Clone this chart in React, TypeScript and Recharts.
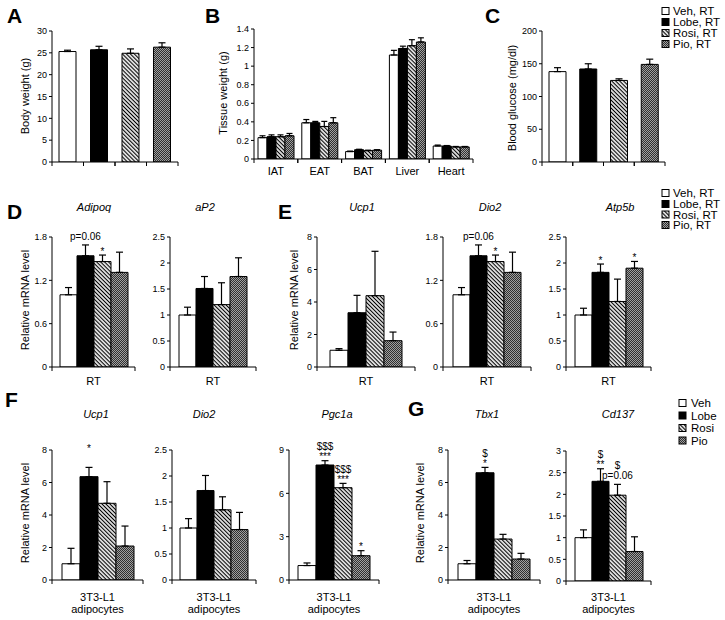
import React from 'react';
import { BarChart, Bar, XAxis, YAxis, ErrorBar, Cell, LabelList } from 'recharts';

// --- Data ---
const GROUPS = ['Veh', 'Lobe', 'Rosi', 'Pio'];
const LEGEND_RT = ['Veh, RT', 'Lobe, RT', 'Rosi, RT', 'Pio, RT'];
const LEGEND_CELLS = ['Veh', 'Lobe', 'Rosi', 'Pio'];

const bodyWeight = [25.3, 25.7, 24.9, 26.3];
const bodyWeightErr = [0.3, 0.8, 1.0, 1.0];

const tissues = ['IAT', 'EAT', 'BAT', 'Liver', 'Heart'];
const tissueVeh = [0.23, 0.39, 0.08, 1.12, 0.14];
const tissueLobe = [0.24, 0.39, 0.1, 1.19, 0.14];
const tissueRosi = [0.24, 0.35, 0.09, 1.22, 0.13];
const tissuePio = [0.25, 0.39, 0.095, 1.26, 0.13];
const tissueVehErr = [0.02, 0.035, 0.005, 0.05, 0.01];
const tissueLobeErr = [0.02, 0.015, 0.005, 0.025, 0.005];
const tissueRosiErr = [0.02, 0.055, 0.005, 0.065, 0.005];
const tissuePioErr = [0.025, 0.055, 0.005, 0.045, 0.005];

const glucose = [138, 142, 124.5, 149];
const glucoseErr = [6, 8, 2.5, 8];

// mRNA panels: mean per group, upper error, significance marks
const adipoq = [1.0, 1.54, 1.46, 1.31];
const adipoqErr = [0.1, 0.15, 0.09, 0.28];
const adipoqNotes = ['', 'p=0.06', '*', ''];

const ap2 = [1.0, 1.51, 1.2, 1.74];
const ap2Err = [0.15, 0.23, 0.42, 0.36];

const ucp1RT = [1.03, 3.34, 4.39, 1.62];
const ucp1RTErr = [0.1, 1.07, 2.73, 0.53];

const dio2RT = [1.0, 1.54, 1.46, 1.31];
const dio2RTErr = [0.1, 0.15, 0.09, 0.28];
const dio2RTNotes = ['', 'p=0.06', '*', ''];

const atp5b = [1.0, 1.82, 1.26, 1.9];
const atp5bErr = [0.13, 0.16, 0.43, 0.13];
const atp5bNotes = ['', '*', '', '*'];

const ucp1Cell = [1.0, 6.36, 4.72, 2.09];
const ucp1CellErr = [0.95, 0.57, 1.33, 1.23];
const ucp1CellNotes = ['', '*', '', ''];

const dio2Cell = [1.0, 1.72, 1.35, 0.97];
const dio2CellErr = [0.18, 0.29, 0.25, 0.33];

const pgc1a = [1.0, 7.96, 6.39, 1.68];
const pgc1aErr = [0.18, 0.3, 0.3, 0.35];
const pgc1aNotes = ['', '$$$\n***', '$$$\n***', '*'];

const tbx1 = [1.0, 6.6, 2.52, 1.29];
const tbx1Err = [0.2, 0.33, 0.29, 0.35];
const tbx1Notes = ['', '$\n*', '', ''];

const cd137 = [1.0, 2.3, 1.98, 0.68];
const cd137Err = [0.18, 0.29, 0.25, 0.34];
const cd137Notes = ['', '$\n**', '$\np=0.06', ''];

// --- Style ---
const FONT = '"Liberation Sans", Arial, Helvetica, sans-serif';
const FILLS = ['#ffffff', '#000000', 'url(#rosiHatch)', 'url(#pioDots)'];
const Y_W = 40;
const PAD_T = 34;
const PAD_B = 42;
const PAD_R = 6;

interface Geo {
  x0: number;
  x1: number;
  yTop: number;
  yBot: number;
}

function boxOf(g: Geo) {
  return {
    left: g.x0 - Y_W,
    top: g.yTop - PAD_T,
    width: g.x1 - g.x0 + Y_W + PAD_R,
    height: g.yBot - g.yTop + PAD_T + PAD_B,
  };
}

function PatternDefs() {
  return (
    <svg width={0} height={0} style={{ position: 'absolute' }}>
      <defs>
        <pattern id="rosiHatch" patternUnits="userSpaceOnUse" width={2.8} height={2.8} patternTransform="rotate(45)">
          <rect width={2.8} height={2.8} fill="#fff" />
          <line x1={0} y1={1.4} x2={2.8} y2={1.4} stroke="#000" strokeWidth={1.2} />
        </pattern>
        <pattern id="pioDots" patternUnits="userSpaceOnUse" width={2} height={2}>
          <rect width={2} height={2} fill="#a0a0a0" />
          <rect width={1} height={1} fill="#303030" />
          <rect x={1} y={1} width={1} height={1} fill="#303030" />
        </pattern>
      </defs>
    </svg>
  );
}

// category tick: boundary marks at band edges plus optional text
const xTick = (band: number, showText: boolean, dy: number) => (props: any) => {
  const { x, y, payload } = props;
  const lines = showText ? String(payload.value).split('\n') : [];
  return (
    <g>
      <line x1={x - band / 2} x2={x - band / 2} y1={y} y2={y + 4} stroke="#000" />
      <line x1={x + band / 2} x2={x + band / 2} y1={y} y2={y + 4} stroke="#000" />
      {lines.map((t, i) => (
        <text key={i} x={x} y={y + dy + i * 12} textAnchor="middle" fontSize={11} fill="#000">
          {t}
        </text>
      ))}
    </g>
  );
};

const noteContent = (vals: number[], errs: number[], notes: string[], k: number, lift: number) => (props: any) => {
  const vb = props.viewBox && props.viewBox.width != null ? props.viewBox : props;
  const { x, y, width, height } = vb;
  const text = notes[k];
  if (!text) return null;
  const errPx = (errs[k] * height) / vals[k];
  let cursor = y - errPx - lift;
  const lines = text.split('\n').reverse();
  return (
    <g>
      {lines.map((t, i) => {
        let base: number;
        if (t.startsWith('*')) {
          base = cursor - 0.5;
        } else {
          base = cursor - (i === 0 ? 5 : 2);
        }
        cursor = base - 8;
        return (
          <text key={i} x={x + width / 2} y={base} textAnchor="middle" fontSize={10} fill="#000">
            {t}
          </text>
        );
      })}
    </g>
  );
};

function yAxisProps(max: number, ticks: number[]) {
  return {
    type: 'number' as const,
    width: Y_W,
    domain: [0, max],
    ticks,
    interval: 0 as const,
    allowDataOverflow: true,
    tick: { fontSize: 9, fill: '#000' },
    tickSize: 3,
    tickMargin: 2,
    axisLine: { stroke: '#000' },
    tickLine: { stroke: '#000' },
  };
}

interface GeneProps extends Geo {
  max: number;
  ticks: number[];
  label: string;
  vals: number[];
  errs: number[];
  notes?: string[];
  barSize: number;
  labelDy?: number;
  lift?: number;
}

function GenePanel(p: GeneProps) {
  const row: any = { name: p.label };
  GROUPS.forEach((g, i) => {
    row[g] = p.vals[i];
    row[g + 'Err'] = [0, p.errs[i]];
  });
  const box = boxOf(p);
  return (
    <div style={{ position: 'absolute', left: box.left, top: box.top }}>
      <BarChart
        width={box.width}
        height={box.height}
        data={[row]}
        margin={{ top: PAD_T, right: PAD_R, bottom: 0, left: 0 }}
        barGap={0}
        barSize={p.barSize}
      >
        <XAxis
          dataKey="name"
          height={PAD_B}
          interval={0}
          tickLine={false}
          tickSize={0}
          tickMargin={0}
          axisLine={{ stroke: '#000' }}
          tick={xTick(p.x1 - p.x0, true, p.labelDy ?? 18)}
        />
        <YAxis {...yAxisProps(p.max, p.ticks)} />
        {GROUPS.map((g, i) => (
          <Bar key={g} dataKey={g} fill={FILLS[i]} stroke="#000" strokeWidth={1} isAnimationActive={false}>
            <ErrorBar dataKey={g + 'Err'} width={3.5} stroke="#000" strokeWidth={1.2} direction="y" />
            {p.notes && p.notes[i] ? (
              <LabelList dataKey={g} content={noteContent(p.vals, p.errs, p.notes, i, p.lift ?? 0)} />
            ) : null}
          </Bar>
        ))}
      </BarChart>
    </div>
  );
}

interface SimpleProps extends Geo {
  max: number;
  ticks: number[];
  vals: number[];
  errs: number[];
}

function SimplePanel(p: SimpleProps) {
  const data = GROUPS.map((g, i) => ({ name: g, value: p.vals[i], err: [0, p.errs[i]] }));
  const box = boxOf(p);
  return (
    <div style={{ position: 'absolute', left: box.left, top: box.top }}>
      <BarChart
        width={box.width}
        height={box.height}
        data={data}
        margin={{ top: PAD_T, right: PAD_R, bottom: 0, left: 0 }}
        barSize={17}
      >
        <XAxis
          dataKey="name"
          height={PAD_B}
          interval={0}
          tickLine={false}
          tickSize={0}
          tickMargin={0}
          axisLine={{ stroke: '#000' }}
          tick={xTick((p.x1 - p.x0) / GROUPS.length, false, 0)}
        />
        <YAxis {...yAxisProps(p.max, p.ticks)} />
        <Bar dataKey="value" stroke="#000" strokeWidth={1} isAnimationActive={false}>
          {data.map((d, i) => (
            <Cell key={d.name} fill={FILLS[i]} />
          ))}
          <ErrorBar dataKey="err" width={3.5} stroke="#000" strokeWidth={1.2} direction="y" />
        </Bar>
      </BarChart>
    </div>
  );
}

function TissuePanel() {
  const g: Geo = { x0: 254, x1: 473, yTop: 29, yBot: 159 };
  const series = [tissueVeh, tissueLobe, tissueRosi, tissuePio];
  const errs = [tissueVehErr, tissueLobeErr, tissueRosiErr, tissuePioErr];
  const data = tissues.map((t, j) => {
    const row: any = { name: t };
    GROUPS.forEach((k, i) => {
      row[k] = series[i][j];
      row[k + 'Err'] = [0, errs[i][j]];
    });
    return row;
  });
  const box = boxOf(g);
  return (
    <div style={{ position: 'absolute', left: box.left, top: box.top }}>
      <BarChart
        width={box.width}
        height={box.height}
        data={data}
        margin={{ top: PAD_T, right: PAD_R, bottom: 0, left: 0 }}
        barGap={0}
        barSize={9}
      >
        <XAxis
          dataKey="name"
          height={PAD_B}
          interval={0}
          tickLine={false}
          tickSize={0}
          tickMargin={0}
          axisLine={{ stroke: '#000' }}
          tick={xTick((g.x1 - g.x0) / tissues.length, true, 16)}
        />
        <YAxis {...yAxisProps(1.4, [0, 0.2, 0.4, 0.6, 0.8, 1, 1.2, 1.4])} />
        {GROUPS.map((k, i) => (
          <Bar key={k} dataKey={k} fill={FILLS[i]} stroke="#000" strokeWidth={1} isAnimationActive={false}>
            <ErrorBar dataKey={k + 'Err'} width={3} stroke="#000" strokeWidth={1.2} direction="y" />
          </Bar>
        ))}
      </BarChart>
    </div>
  );
}

const LETTERS: [string, number, number][] = [
  ['A', 7, 22.5], ['B', 205, 23], ['C', 485, 23], ['D', 7, 219],
  ['E', 278, 219], ['F', 5, 407], ['G', 408, 416],
];

const TITLES: [string, number, number][] = [
  ['Adipoq', 94, 211], ['aP2', 205, 211], ['Ucp1', 362, 211], ['Dio2', 490, 211], ['Atp5b', 620, 211],
  ['Ucp1', 96, 418], ['Dio2', 204, 418], ['Pgc1a', 337, 418], ['Tbx1', 487, 418], ['Cd137', 618, 418],
];

const Y_LABELS: [string, number, number][] = [
  ['Body weight (g)', 25, 96], ['Tissue weight (g)', 223, 93], ['Blood glucose (mg/dl)', 512, 98],
  ['Relative mRNA level', 25, 300], ['Relative mRNA level', 294, 300],
  ['Relative mRNA level', 25, 513], ['Relative mRNA level', 420, 513],
];

function Legend({ x, ys, labels, gap }: { x: number; ys: number[]; labels: string[]; gap: number }) {
  return (
    <g>
      {labels.map((t, i) => (
        <g key={t}>
          <rect x={x} y={ys[i] - 3.5} width={7} height={7} fill={FILLS[i]} stroke="#000" strokeWidth={1} />
          <text x={x + gap} y={ys[i] + 4} fontSize={11.5} fill="#000">
            {t}
          </text>
        </g>
      ))}
    </g>
  );
}

function Overlay() {
  return (
    <svg width={725} height={620} style={{ position: 'absolute', left: 0, top: 0, pointerEvents: 'none' }}>
      {LETTERS.map(([t, x, y]) => (
        <text key={t} x={x} y={y} fontSize={21} fontWeight="bold" fill="#000">
          {t}
        </text>
      ))}
      {TITLES.map(([t, x, y], i) => (
        <text key={i} x={x} y={y} fontSize={11} fontStyle="italic" textAnchor="middle" fill="#000">
          {t}
        </text>
      ))}
      {Y_LABELS.map(([t, x, y], i) => (
        <text key={i} transform={`translate(${x + 4},${y}) rotate(-90)`} fontSize={11} textAnchor="middle" fill="#000">
          {t}
        </text>
      ))}
      <Legend x={662} ys={[11, 22, 33, 44]} labels={LEGEND_RT} gap={11} />
      <Legend x={662} ys={[193, 204, 214.5, 225]} labels={LEGEND_RT} gap={11} />
      <Legend x={679} ys={[403, 415.5, 428, 440.5]} labels={LEGEND_CELLS} gap={12} />
    </svg>
  );
}

export default function App() {
  const row2 = { yTop: 237, yBot: 367 };
  const row3 = { yTop: 450, yBot: 580 };
  const cellLabel = '3T3-L1\nadipocytes';
  return (
    <div
      style={{
        position: 'absolute',
        left: 0,
        top: 0,
        width: 725,
        height: 620,
        background: '#fff',
        fontFamily: FONT,
        overflow: 'hidden',
      }}
    >
      <PatternDefs />
      <SimplePanel x0={52} x1={178} yTop={31} yBot={162} max={30} ticks={[0, 5, 10, 15, 20, 25, 30]} vals={bodyWeight} errs={bodyWeightErr} />
      <TissuePanel />
      <SimplePanel x0={542} x1={665} yTop={31} yBot={162} max={200} ticks={[0, 50, 100, 150, 200]} vals={glucose} errs={glucoseErr} />

      <GenePanel x0={52} x1={135} {...row2} max={1.8} ticks={[0, 0.6, 1.2, 1.8]} label="RT" vals={adipoq} errs={adipoqErr} notes={adipoqNotes} barSize={17} />
      <GenePanel x0={170} x1={256} {...row2} max={2.5} ticks={[0, 0.5, 1, 1.5, 2, 2.5]} label="RT" vals={ap2} errs={ap2Err} barSize={17} />
      <GenePanel x0={317} x1={415} {...row2} max={8} ticks={[0, 2, 4, 6, 8]} label="RT" vals={ucp1RT} errs={ucp1RTErr} barSize={18} />
      <GenePanel x0={443} x1={531} {...row2} max={1.8} ticks={[0, 0.6, 1.2, 1.8]} label="RT" vals={dio2RT} errs={dio2RTErr} notes={dio2RTNotes} barSize={17} />
      <GenePanel x0={566} x1={651} {...row2} max={2.5} ticks={[0, 0.5, 1, 1.5, 2, 2.5]} label="RT" vals={atp5b} errs={atp5bErr} notes={atp5bNotes} barSize={17} />

      <GenePanel x0={52} x1={143} {...row3} max={8} ticks={[0, 2, 4, 6, 8]} label={cellLabel} vals={ucp1Cell} errs={ucp1CellErr} notes={ucp1CellNotes} barSize={18} labelDy={21} lift={15} />
      <GenePanel x0={172} x1={256} {...row3} max={2.5} ticks={[0, 0.5, 1, 1.5, 2, 2.5]} label={cellLabel} vals={dio2Cell} errs={dio2CellErr} barSize={17} labelDy={21} />
      <GenePanel x0={289} x1={379} {...row3} max={9} ticks={[0, 3, 6, 9]} label={cellLabel} vals={pgc1a} errs={pgc1aErr} notes={pgc1aNotes} barSize={18} labelDy={21} />
      <GenePanel x0={448} x1={540} {...row3} max={8} ticks={[0, 2, 4, 6, 8]} label={cellLabel} vals={tbx1} errs={tbx1Err} notes={tbx1Notes} barSize={18} labelDy={21} />
      <GenePanel x0={566} x1={651} yTop={451} yBot={581} max={3} ticks={[0, 0.5, 1, 1.5, 2, 2.5, 3]} label={cellLabel} vals={cd137} errs={cd137Err} notes={cd137Notes} barSize={17} labelDy={20} />

      <Overlay />
    </div>
  );
}
